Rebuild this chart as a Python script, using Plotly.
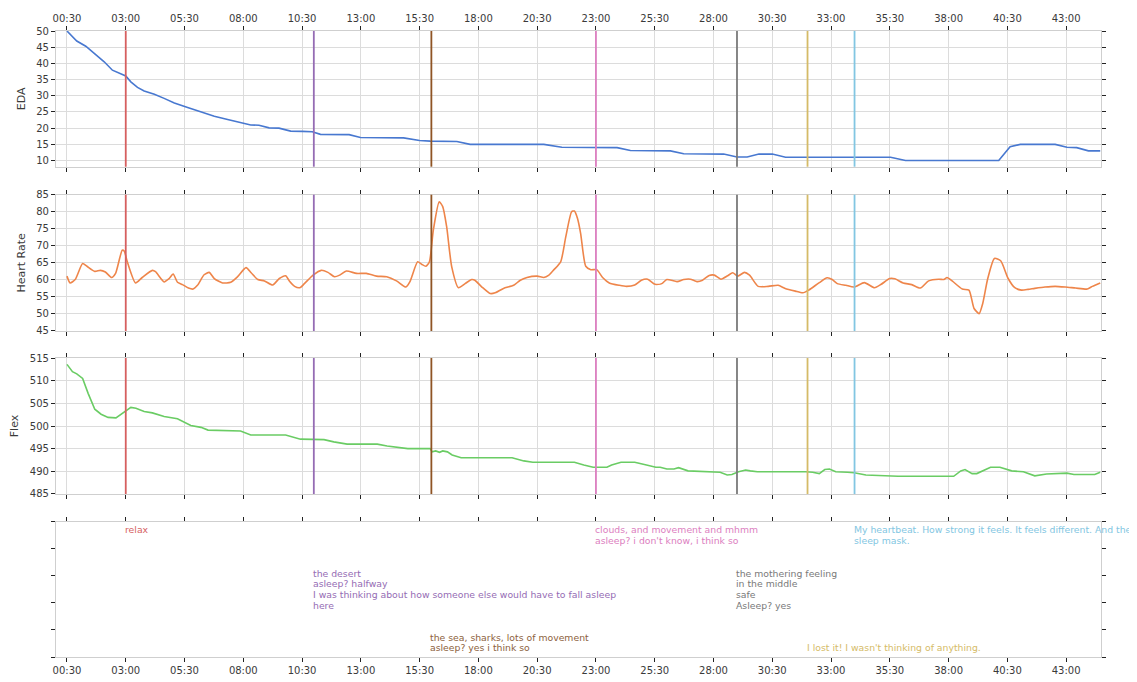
import plotly.graph_objects as go

# ---------------- data ----------------
tick_seconds = [30, 180, 330, 480, 630, 780, 930, 1080, 1230, 1380, 1530, 1680,
                1830, 1980, 2130, 2280, 2430, 2580]
tick_labels = ["00:30", "03:00", "05:30", "08:00", "10:30", "13:00", "15:30", "18:00",
               "20:30", "23:00", "25:30", "28:00", "30:30", "33:00", "35:30", "38:00",
               "40:30", "43:00"]

eda_t = [30, 40, 55, 78, 100, 125, 146, 168, 180, 193, 210, 227, 253, 278, 304, 338, 372,
         406, 440, 473, 499, 520, 546, 571, 601, 631, 656, 677, 750, 779, 889, 930, 957,
         1025, 1059, 1247, 1293, 1434, 1468, 1570, 1604, 1706, 1740, 1766, 1796, 1830,
         1864, 2132, 2170, 2408, 2437, 2463, 2552, 2582, 2607, 2637, 2667]
eda_v = [50, 48.7, 46.9, 45.3, 43.0, 40.5, 37.9, 36.7, 36.1, 34.3, 32.6, 31.5, 30.5, 29.2,
         27.8, 26.4, 25.1, 23.7, 22.7, 21.8, 21.0, 20.9, 20.1, 20.0, 19.1, 19.0, 18.9,
         18.1, 18.0, 17.1, 17.0, 16.2, 16.0, 15.9, 15.0, 15.0, 14.1, 14.0, 13.1, 13.0,
         12.1, 12.0, 11.1, 11.1, 12.0, 12.0, 11.0, 11.0, 10.0, 10.0, 14.3, 15.0, 15.0,
         14.1, 14.0, 13.0, 13.0]

hr_t = [30, 38, 51, 70, 81, 101, 115, 128, 144, 154, 171, 176, 184, 205, 222, 248, 256,
        278, 290, 301, 312, 325, 340, 352, 363, 380, 393, 406, 427, 448, 465, 487, 500,
        517, 534, 555, 572, 588, 598, 611, 624, 636, 658, 679, 696, 713, 726, 743, 769,
        794, 820, 846, 871, 895, 905, 925, 935, 946, 955, 965, 980, 989, 999, 1012, 1029,
        1046, 1063, 1071, 1089, 1110, 1123, 1144, 1170, 1187, 1204, 1230, 1247, 1260,
        1273, 1290, 1303, 1318, 1325, 1333, 1341, 1354, 1367, 1382, 1397, 1414, 1440,
        1458, 1479, 1496, 1512, 1531, 1548, 1561, 1587, 1604, 1621, 1638, 1652, 1669,
        1682, 1699, 1716, 1729, 1742, 1759, 1772, 1794, 1820, 1845, 1863, 1889, 1908,
        1923, 1949, 1970, 1983, 1996, 2018, 2039, 2065, 2091, 2108, 2130, 2143, 2164,
        2186, 2208, 2229, 2255, 2268, 2276, 2289, 2315, 2332, 2345, 2358, 2367, 2380,
        2397, 2413, 2432, 2449, 2466, 2483, 2500, 2526, 2552, 2578, 2604, 2634, 2647, 2667]
hr_v = [61.1, 59.1, 60.1, 64.8, 64.0, 62.5, 62.8, 62.3, 60.7, 61.9, 68.7, 68.5, 65.3,
        59.1, 60.7, 62.8, 62.4, 59.4, 60.3, 61.7, 59.3, 58.6, 57.6, 57.3, 58.4, 61.5,
        62.2, 60.4, 59.1, 59.3, 60.9, 63.6, 62.1, 60.1, 59.7, 58.5, 60.4, 61.2, 59.6,
        58.1, 57.7, 58.9, 61.4, 62.8, 62.2, 60.9, 61.4, 62.6, 61.9, 61.9, 61.1, 60.9,
        59.7, 57.9, 59.4, 65.3, 64.6, 64.0, 65.3, 74.6, 82.9, 81.5, 75.6, 63.8, 57.7,
        58.9, 60.1, 59.9, 57.9, 56.0, 56.2, 57.5, 58.4, 59.9, 60.7, 61.1, 60.7, 61.4,
        63.0, 65.3, 72.6, 80.0, 80.2, 78.0, 73.6, 64.0, 63.0, 63.0, 60.7, 59.1, 58.4,
        58.1, 58.5, 59.9, 60.2, 58.7, 58.9, 60.1, 59.5, 60.1, 60.2, 59.5, 59.9, 61.3,
        61.4, 60.2, 61.2, 62.1, 61.1, 62.2, 61.4, 58.1, 58.1, 58.4, 57.5, 56.7, 56.2,
        57.0, 59.1, 60.6, 60.1, 58.9, 58.4, 57.9, 59.2, 57.7, 58.7, 60.4, 60.3, 59.1,
        58.6, 57.6, 59.7, 60.2, 60.1, 60.7, 59.7, 57.3, 57.0, 51.6, 50.1, 53.0, 60.4,
        66.3, 65.6, 60.4, 57.7, 57.0, 57.2, 57.5, 57.9, 58.1, 57.9, 57.6, 57.3, 58.1, 59.1]

flex_t = [30, 44, 55, 70, 84, 101, 117, 135, 155, 168, 180, 193, 206, 227, 248, 278, 312,
          333, 346, 372, 390, 473, 499, 588, 626, 686, 711, 745, 822, 847, 877, 900, 957,
          962, 971, 981, 989, 1001, 1013, 1036, 1166, 1196, 1219, 1302, 1314, 1325, 1349,
          1373, 1408, 1420, 1444, 1479, 1509, 1533, 1544, 1561, 1579, 1591, 1615, 1679,
          1697, 1715, 1727, 1744, 1762, 1774, 1792, 1915, 1933, 1950, 1964, 1976, 1992,
          2022, 2039, 2069, 2104, 2151, 2293, 2311, 2322, 2340, 2352, 2370, 2387, 2411,
          2441, 2471, 2500, 2530, 2547, 2565, 2582, 2600, 2635, 2653, 2667]
flex_v = [513.6, 512.0, 511.5, 510.5, 507.2, 503.7, 502.6, 501.9, 501.8, 502.6, 503.5,
          504.1, 503.9, 503.2, 502.9, 502.1, 501.6, 500.6, 500.1, 499.7, 499.1, 498.9,
          498.0, 498.0, 497.1, 497.0, 496.5, 496.0, 496.0, 495.6, 495.3, 495.0, 495.0,
          494.3, 494.5, 494.2, 494.5, 494.3, 493.6, 493.0, 493.0, 492.3, 492.0, 492.0,
          492.1, 492.0, 491.4, 490.9, 490.9, 491.4, 492.0, 492.0, 491.4, 490.9, 490.9,
          490.5, 490.5, 490.8, 490.1, 489.9, 489.8, 489.2, 489.3, 489.9, 490.3, 490.1,
          489.9, 489.9, 489.8, 489.5, 490.4, 490.5, 489.9, 489.8, 489.7, 489.2, 489.1,
          488.9, 488.9, 490.1, 490.4, 489.5, 489.5, 490.3, 490.9, 490.9, 490.1, 489.9,
          489.0, 489.4, 489.5, 489.5, 489.6, 489.3, 489.2, 489.3, 489.8]

event_t = [180, 660, 960, 1380, 1740, 1920, 2040]
event_colors = ["#d65f5f", "#956cb4", "#8c613c", "#dc7ec0", "#797979", "#d5bb67", "#82c6e2"]
event_line_colors = ["#d65f5f", "#956cb4", "#8f5424", "#dc7ec0", "#797979", "#d5bb67", "#82c6e2"]
event_text = [
    ["relax"],
    ["the desert", "asleep? halfway",
     "I was thinking about how someone else would have to fall asleep", "here"],
    ["the sea, sharks, lots of movement", "asleep? yes i think so"],
    ["clouds, and movement and mhmm", "asleep? i don't know, i think so"],
    ["the mothering feeling", "in the middle", "safe", "Asleep? yes"],
    ["I lost it! I wasn't thinking of anything."],
    ["My heartbeat. How strong it feels. It feels different. And the", "sleep mask."],
]

# ---------------- figure ----------------
FONT = "DejaVu Sans"
GRID = "#dcdcdc"
FRAME = "#cfcfcf"
TXT = "#3a3a3a"

fig = go.Figure()
fig.add_trace(go.Scatter(x=eda_t, y=eda_v, mode="lines", xaxis="x", yaxis="y",
                         line=dict(color="#4878d0", width=1.6), showlegend=False))
fig.add_trace(go.Scatter(x=hr_t, y=hr_v, mode="lines", xaxis="x2", yaxis="y2",
                         line=dict(color="#ee854a", width=1.6, shape="spline", smoothing=0.6),
                         showlegend=False))
fig.add_trace(go.Scatter(x=flex_t, y=flex_v, mode="lines", xaxis="x3", yaxis="y3",
                         line=dict(color="#6acc64", width=1.6), showlegend=False))

domains = [[0.7832, 1.0], [0.5208, 0.7385], [0.2604, 0.4776], [0.0, 0.2157]]
xrange_ = [2, 2669]

common_x = dict(range=xrange_, tickvals=tick_seconds, ticktext=tick_labels,
                ticks="outside", ticklen=4, tickwidth=1.2, tickcolor="#222",
                showline=True, linecolor=FRAME, linewidth=1.2, mirror="ticks",
                zeroline=False, automargin=False,
                tickfont=dict(family=FONT, size=10, color=TXT))
common_y = dict(ticks="outside", ticklen=4, tickwidth=1.2, tickcolor="#222",
                showline=True, linecolor=FRAME, linewidth=1.2, mirror="ticks",
                zeroline=False, automargin=False,
                tickfont=dict(family=FONT, size=10, color=TXT))

layout = dict(
    width=1137, height=682,
    margin=dict(l=48, r=44, t=23, b=33),
    paper_bgcolor="white", plot_bgcolor="white",
    font=dict(family=FONT, color=TXT),
)
layout["xaxis"] = dict(common_x, anchor="y", side="top", showticklabels=True,
                       showgrid=True, gridcolor=GRID, gridwidth=1.3)
layout["xaxis2"] = dict(common_x, anchor="y2", matches="x", showticklabels=False,
                        showgrid=True, gridcolor=GRID, gridwidth=1.3)
layout["xaxis3"] = dict(common_x, anchor="y3", matches="x", showticklabels=False,
                        showgrid=True, gridcolor=GRID, gridwidth=1.3)
layout["xaxis4"] = dict(common_x, anchor="y4", matches="x", showticklabels=True,
                        showgrid=False)
layout["yaxis"] = dict(common_y, domain=domains[0], anchor="x", range=[8.1, 50],
                       tickvals=[10, 15, 20, 25, 30, 35, 40, 45, 50],
                       showgrid=True, gridcolor=GRID, gridwidth=1.3,
                       title=dict(text="EDA", standoff=8,
                                  font=dict(family=FONT, size=11, color=TXT)))
layout["yaxis2"] = dict(common_y, domain=domains[1], anchor="x2", range=[45, 85],
                        tickvals=[45, 50, 55, 60, 65, 70, 75, 80, 85],
                        showgrid=True, gridcolor=GRID, gridwidth=1.3,
                        title=dict(text="Heart Rate", standoff=8,
                                   font=dict(family=FONT, size=11, color=TXT)))
layout["yaxis3"] = dict(common_y, domain=domains[2], anchor="x3", range=[485, 515],
                        tickvals=[485, 490, 495, 500, 505, 510, 515],
                        showgrid=True, gridcolor=GRID, gridwidth=1.3,
                        title=dict(text="Flex", standoff=8,
                                   font=dict(family=FONT, size=11, color=TXT)))
layout["yaxis4"] = dict(common_y, domain=domains[3], anchor="x4", range=[0, 1],
                        tickvals=[0, 0.2, 0.4, 0.6, 0.8, 1.0], showticklabels=False,
                        showgrid=False)
fig.update_layout(**layout)

# event markers in the three signal panels
shapes = []
for t, c in zip(event_t, event_line_colors):
    for ax in ["", "2", "3"]:
        shapes.append(dict(type="line", xref="x" + ax, yref="y" + ax + " domain",
                           x0=t, x1=t, y0=0, y1=1, line=dict(color=c, width=1.8),
                           layer="above"))
fig.update_layout(shapes=shapes)

# event notes in the bottom panel (first-line centre, axis units)
text_rows = [0.941, 0.622, 0.148, 0.941, 0.622, 0.067, 0.941]
annotations = []
for t, c, lines, ytop in zip(event_t, event_colors, event_text, text_rows):
    for i, line in enumerate(lines):
        annotations.append(dict(x=t, y=ytop, xref="x4", yref="y4", text=line,
                                showarrow=False, xanchor="left", yanchor="middle",
                                xshift=-3, yshift=-10.7 * i,
                                font=dict(family=FONT, size=9.3, color=c)))
fig.update_layout(annotations=annotations)

fig.write_html("out.html")
